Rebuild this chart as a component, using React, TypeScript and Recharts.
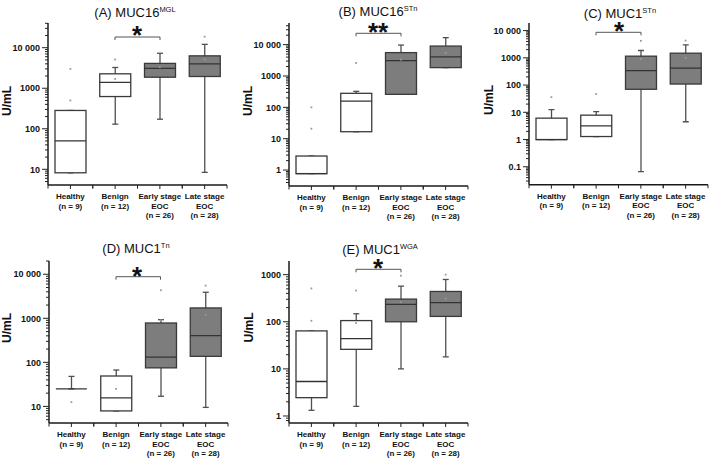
import { ComposedChart, Bar, Scatter, XAxis, YAxis, Cell } from "recharts";

const FONT = '"Liberation Sans", Arial, Helvetica, sans-serif';
const PLOT_W = 179;
const BAND = PLOT_W / 4;
const BOX_W = 31;

const groups = ["Healthy", "Benign", "Early", "Late"];
const groupLines = [
  ["Healthy", "(n = 9)"],
  ["Benign", "(n = 12)"],
  ["Early stage", "EOC", "(n = 26)"],
  ["Late stage", "EOC", "(n = 28)"],
];

// (A) MUC16 MGL
const aMin = [8.2, 130, 172, 8.4];
const aQ1 = [8.2, 624, 1870, 1950];
const aMed = [50, 1400, 3100, 4000];
const aQ3 = [283, 2270, 4100, 6300];
const aMax = [283, 3250, 7300, 12100];
const aDots = [[3000, 500], [5100, 1700], [3300], [18700, 5150]];
const aTicks = [10, 100, 1000, 10000];

// (B) MUC16 STn
const bMin = [0.77, 16.7, 260, 1850];
const bQ1 = [0.77, 16.7, 260, 1850];
const bMed = [0.77, 159, 3100, 4050];
const bQ3 = [2.8, 280, 5570, 9000];
const bMax = [2.8, 324, 9700, 16700];
const bDots = [[100, 20.9], [2600], [3300], [5500]];
const bTicks = [1, 10, 100, 1000, 10000];

// (C) MUC1 STn
const cMin = [1, 1.29, 0.066, 4.5];
const cQ1 = [1, 1.29, 70, 109];
const cMed = [1, 3.2, 337, 420];
const cQ3 = [6.1, 7.85, 1150, 1480];
const cMax = [12.5, 10.6, 1860, 3000];
const cDots = [[36], [47], [4200, 900], [4300, 1000]];
const cTicks = [0.1, 1, 10, 100, 1000, 10000];

// (D) MUC1 Tn
const dMin = [25, 7.9, 17, 9.5];
const dQ1 = [25, 7.9, 75, 137];
const dMed = [25, 15.7, 132, 404];
const dQ3 = [25, 49, 783, 1720];
const dMax = [48, 67, 930, 3900];
const dDots = [[12.5], [25], [4330, 900], [5530, 1200]];
const dTicks = [10, 100, 1000, 10000];

// (E) MUC1 WGA
const eMin = [1.32, 1.6, 10, 18];
const eQ1 = [2.45, 26, 100, 130];
const eMed = [5.4, 44, 235, 255];
const eQ3 = [64, 106, 303, 440];
const eMax = [64, 148, 570, 790];
const eDots = [[510, 105], [460, 94], [950, 260], [1000, 310]];
const eTicks = [1, 10, 100, 1000];

function buildRows(mn: number[], q1: number[], md: number[], q3: number[], mx: number[], dots: number[][]) {
  return groups.map((g, i) => ({
    name: g,
    whisker: [mn[i], mx[i]],
    box: [q1[i], q3[i]],
    med: md[i],
    d0: dots[i][0] ?? null,
    d1: dots[i][1] ?? null,
  }));
}

// minor ticks at 2..9 of each decade, plus the labelled powers of ten
function logTicks(lo: number, hi: number, majors: number[]) {
  const out: number[] = [];
  for (let e = Math.floor(Math.log10(lo)); e <= Math.ceil(Math.log10(hi)); e++) {
    for (let k = 1; k <= 9; k++) {
      const v = Number((k * Math.pow(10, e)).toPrecision(6));
      if (v >= lo && v <= hi) out.push(v);
    }
  }
  return out.filter((v) => !majors.includes(v)).concat(majors).sort((a, b) => a - b);
}

function fmt(v: number) {
  return v >= 10000 ? String(v).replace(/\B(?=(\d{3})+(?!\d))/g, " ") : String(v);
}

function YTick(props: any) {
  const { x, y, payload } = props;
  const v = payload.value;
  const lg = Math.log10(v);
  const major = Math.abs(lg - Math.round(lg)) < 1e-6;
  return (
    <g>
      <line x1={x - (major ? 6 : 3)} x2={x} y1={y} y2={y} stroke="#222" strokeWidth={1} />
      {major && (
        <text x={x - 8} y={y + 3.2} textAnchor="end" fontSize={9} fontWeight="bold" fontFamily={FONT} fill="#111">
          {fmt(v)}
        </text>
      )}
    </g>
  );
}

function XTick(props: any) {
  const { x, y, payload } = props;
  const lines = groupLines[groups.indexOf(payload.value)] ?? [];
  return (
    <g>
      <line x1={x} x2={x} y1={y} y2={y + 4} stroke="#222" />
      <line x1={x - BAND / 2} x2={x - BAND / 2} y1={y} y2={y + 3.5} stroke="#222" />
      <line x1={x + BAND / 2} x2={x + BAND / 2} y1={y} y2={y + 3.5} stroke="#222" />
      <text textAnchor="middle" fontSize={8} fontWeight="bold" fontFamily={FONT} fill="#111">
        {lines.map((l, i) => (
          <tspan key={i} x={x} y={y + 14.3 + i * 9.5}>{l}</tspan>
        ))}
      </text>
    </g>
  );
}

function WhiskerShape(props: any) {
  const { x, y, width, height } = props;
  if (!isFinite(y) || !isFinite(height)) return <g />;
  const cx = x + width / 2;
  return (
    <g stroke="#505050" strokeWidth={1.3}>
      <line x1={cx} x2={cx} y1={y} y2={y + height} />
      <line x1={cx - 3} x2={cx + 3} y1={y} y2={y} />
      <line x1={cx - 3} x2={cx + 3} y1={y + height} y2={y + height} />
    </g>
  );
}

function BoxShape(props: any) {
  const { x, y, width, height, fill } = props;
  if (!isFinite(y) || !isFinite(height)) return <g />;
  return <rect x={x} y={y} width={width} height={Math.max(height, 0)} fill={fill} stroke="#3a3a3a" strokeWidth={1.3} />;
}

function MedianShape(props: any) {
  const { cx, cy } = props;
  if (!isFinite(cx) || !isFinite(cy)) return <g />;
  return <line x1={cx - BOX_W / 2} x2={cx + BOX_W / 2} y1={cy} y2={cy} stroke="#333" strokeWidth={1.3} />;
}

function DotShape(props: any) {
  const { cx, cy } = props;
  if (typeof cy !== "number" || !isFinite(cx) || !isFinite(cy)) return <g />;
  return <rect x={cx - 0.9} y={cy - 0.9} width={1.8} height={1.8} fill="#9a9a9a" />;
}

const panels = [
  {
    key: "A", rows: buildRows(aMin, aQ1, aMed, aQ3, aMax, aDots), domain: [4.1, 40700], majors: aTicks,
    left: 48, top: 23, bottom: 185, title: "(A) MUC16", sup: "MGL", titleX: 135, titleY: 17.3,
    unitX: 10.5, unitY: 101, brY: 37, brX1: 115, brX2: 160, star: "*", starX: 137, starY: 43.6,
  },
  {
    key: "B", rows: buildRows(bMin, bQ1, bMed, bQ3, bMax, bDots), domain: [0.31, 49000], majors: bTicks,
    left: 289, top: 22.7, bottom: 185.7, title: "(B) MUC16", sup: "STn", titleX: 378, titleY: 15.5,
    unitX: 251.5, unitY: 101, brY: 33.3, brX1: 356, brX2: 401, star: "**", starX: 378, starY: 41.3,
  },
  {
    key: "C", rows: buildRows(cMin, cQ1, cMed, cQ3, cMax, cDots), domain: [0.022, 19000], majors: cTicks,
    left: 529, top: 23.3, bottom: 185, title: "(C) MUC1", sup: "STn", titleX: 620, titleY: 18,
    unitX: 493, unitY: 100, brY: 32.3, brX1: 596, brX2: 641, star: "*", starX: 619, starY: 40.3,
  },
  {
    key: "D", rows: buildRows(dMin, dQ1, dMed, dQ3, dMax, dDots), domain: [4.2, 20000], majors: dTicks,
    left: 49, top: 260.7, bottom: 422.7, title: "(D) MUC1", sup: "Tn", titleX: 136, titleY: 252.7,
    unitX: 10.5, unitY: 328, brY: 276.7, brX1: 116, brX2: 160.5, star: "*", starX: 137, starY: 284.6,
  },
  {
    key: "E", rows: buildRows(eMin, eQ1, eMed, eQ3, eMax, eDots), domain: [0.71, 1950], majors: eTicks,
    left: 289, top: 260.7, bottom: 422.7, title: "(E) MUC1", sup: "WGA", titleX: 380, titleY: 253.5,
    unitX: 252.5, unitY: 327.5, brY: 269.3, brX1: 356, brX2: 401, star: "*", starX: 378, starY: 276.6,
  },
];

function Panel({ p }: { p: any }) {
  const w = 48 + PLOT_W + 2;
  const h = p.bottom - p.top + 20 + 45;
  const axisLine = { stroke: "#1a1a1a", strokeWidth: 1.5 };
  return (
    <div style={{ position: "absolute", left: p.left - 48, top: p.top - 20 }}>
      <ComposedChart width={w} height={h} data={p.rows} margin={{ top: 20, right: 2, bottom: 0, left: 8 }}>
        <XAxis xAxisId="w" dataKey="name" hide />
        <XAxis
          xAxisId="b" dataKey="name" height={45} interval={0} tickLine={false} tickSize={0} tickMargin={0}
          axisLine={axisLine} tick={(t: any) => <XTick {...t} />}
        />
        <YAxis
          scale="log" type="number" domain={p.domain} allowDataOverflow width={40}
          ticks={logTicks(p.domain[0], p.domain[1], p.majors)} interval={0}
          tickLine={false} tickSize={0} tickMargin={0} axisLine={axisLine} tick={(t: any) => <YTick {...t} />}
        />
        <Bar xAxisId="w" dataKey="whisker" barSize={BOX_W} shape={WhiskerShape} isAnimationActive={false} />
        <Bar xAxisId="b" dataKey="box" barSize={BOX_W} shape={BoxShape} isAnimationActive={false}>
          {p.rows.map((_: any, i: number) => (
            <Cell key={i} fill={i >= 2 ? "#7d7d7d" : "#ffffff"} />
          ))}
        </Bar>
        <Scatter xAxisId="b" dataKey="med" shape={MedianShape} isAnimationActive={false} />
        <Scatter xAxisId="b" dataKey="d0" shape={DotShape} isAnimationActive={false} />
        <Scatter xAxisId="b" dataKey="d1" shape={DotShape} isAnimationActive={false} />
      </ComposedChart>
    </div>
  );
}

export default function App() {
  return (
    <div style={{ position: "absolute", left: 0, top: 0, width: 709, height: 460, overflow: "hidden", background: "#fff" }}>
      {panels.map((p) => (
        <Panel key={p.key} p={p} />
      ))}
      <svg width={709} height={460} style={{ position: "absolute", left: 0, top: 0, pointerEvents: "none" }}>
        {panels.map((p) => (
          <g key={p.key} fontFamily={FONT} fill="#111">
            <text x={p.titleX} y={p.titleY} textAnchor="middle" fontSize={13}>
              {p.title}
              <tspan fontSize={7.5} dy={-5}>{p.sup}</tspan>
            </text>
            <text transform={`translate(${p.unitX},${p.unitY}) rotate(-90)`} textAnchor="middle" fontSize={12} fontWeight="bold">
              U/mL
            </text>
            <path d={`M${p.brX1} ${p.brY + 3} V${p.brY} H${p.brX2} V${p.brY + 3}`} fill="none" stroke="#555" strokeWidth={1} />
            <text x={p.starX} y={p.starY} textAnchor="middle" fontSize={26} fontWeight="bold">
              {p.star}
            </text>
          </g>
        ))}
      </svg>
    </div>
  );
}
